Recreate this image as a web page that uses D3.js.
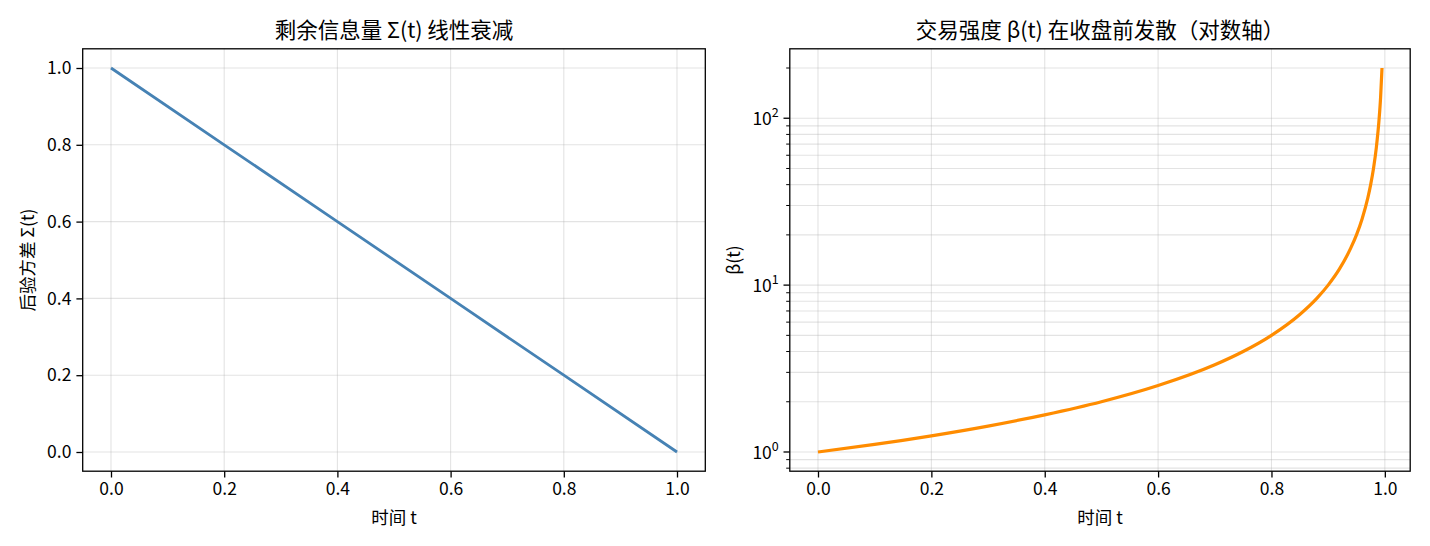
<!DOCTYPE html>
<html>
<head>
<meta charset="utf-8">
<script src="https://cdn.jsdelivr.net/npm/d3@7"></script>
<style>
  body { margin: 0; background: #fff; }
  svg text { font-family: "Noto Sans CJK SC", "Noto Sans", sans-serif; fill: #000; }
  .grid line { stroke: #b0b0b0; stroke-opacity: 0.35; stroke-width: 1.1; }
</style>
</head>
<body>
<div id="chart"></div>
<script>
// left panel: posterior variance, linear decay
const sigmaT = [0, 0.2, 0.4, 0.6, 0.8, 1.0];
const sigmaV = [1.0, 0.8, 0.6, 0.4, 0.2, 0.0];

// right panel: trading intensity
const betaT = [0, 0.1, 0.2, 0.3, 0.4, 0.5, 0.6, 0.7, 0.75, 0.8, 0.85, 0.88, 0.9, 0.92, 0.94, 0.95, 0.96, 0.97, 0.975, 0.98, 0.985, 0.99, 0.9925, 0.995];
const betaV = [1.0, 1.11, 1.25, 1.43, 1.67, 2.0, 2.5, 3.33, 4.0, 5.0, 6.67, 8.33, 10, 12.5, 16.7, 20, 25, 33.3, 40, 50, 66.7, 100, 133, 200];

const xTicks = [0, 0.2, 0.4, 0.6, 0.8, 1.0];
const leftYTicks = [0, 0.2, 0.4, 0.6, 0.8, 1.0];
const logMajor = [1, 10, 100];

const W = 1430, H = 546;
const plotTop = 48.8, plotBottom = 471.2;
const panels = [
  { x0: 82.7, x1: 705.3, title: "剩余信息量 Σ(t) 线性衰减", ylabel: "后验方差 Σ(t)" },
  { x0: 789.8, x1: 1410.2, title: "交易强度 β(t) 在收盘前发散（对数轴）", ylabel: "β(t)" }
];

const svg = d3.select("#chart").append("svg")
  .attr("width", W).attr("height", H);

const tickFont = 17.5, labelFont = 17.5, titleFont = 21.5;

function frame(p, x) {
  const g = svg.append("g");
  // vertical grid
  g.append("g").attr("class", "grid")
    .selectAll("line").data(xTicks).enter().append("line")
    .attr("x1", d => x(d)).attr("x2", d => x(d))
    .attr("y1", plotTop).attr("y2", plotBottom);
  return g;
}

function xAxis(g, p, x) {
  const ax = g.append("g").attr("transform", `translate(0,${plotBottom})`)
    .call(d3.axisBottom(x).tickValues(xTicks).tickFormat(d3.format(".1f")).tickSizeInner(6.3).tickSizeOuter(0).tickPadding(5));
  ax.select(".domain").remove();
  ax.selectAll("line").attr("stroke", "#000").attr("stroke-width", 1.3);
  ax.selectAll("text").style("font-size", tickFont + "px").attr("fill", "#000");
  g.append("text").attr("x", (p.x0 + p.x1) / 2).attr("y", 524)
    .attr("text-anchor", "middle").style("font-size", labelFont + "px").text("时间 t");
  g.append("text").attr("x", (p.x0 + p.x1) / 2).attr("y", 38)
    .attr("text-anchor", "middle").style("font-size", titleFont + "px").text(p.title);
}

function border(g, p) {
  g.append("rect").attr("x", p.x0).attr("y", plotTop)
    .attr("width", p.x1 - p.x0).attr("height", plotBottom - plotTop)
    .attr("fill", "none").attr("stroke", "#000").attr("stroke-width", 1.3);
}

// ---- left panel
{
  const p = panels[0];
  const x = d3.scaleLinear().domain([-0.05, 1.05]).range([p.x0, p.x1]);
  const y = d3.scaleLinear().domain([-0.05, 1.05]).range([plotBottom, plotTop]);
  const g = frame(p, x);
  g.append("g").attr("class", "grid")
    .selectAll("line").data(leftYTicks).enter().append("line")
    .attr("x1", p.x0).attr("x2", p.x1)
    .attr("y1", d => y(d)).attr("y2", d => y(d));

  g.append("path")
    .datum(sigmaT.map((t, i) => [t, sigmaV[i]]))
    .attr("fill", "none").attr("stroke", "#4682b4").attr("stroke-width", 2.8)
    .attr("d", d3.line().x(d => x(d[0])).y(d => y(d[1])));

  const ay = g.append("g").attr("transform", `translate(${p.x0},0)`)
    .call(d3.axisLeft(y).tickValues(leftYTicks).tickFormat(d3.format(".1f")).tickSizeInner(6.3).tickSizeOuter(0).tickPadding(5));
  ay.select(".domain").remove();
  ay.selectAll("line").attr("stroke", "#000").attr("stroke-width", 1.3);
  ay.selectAll("text").style("font-size", tickFont + "px").attr("fill", "#000");

  xAxis(g, p, x);
  g.append("text").attr("transform", `translate(34,${(plotTop + plotBottom) / 2}) rotate(-90)`)
    .attr("text-anchor", "middle").style("font-size", labelFont + "px").text(p.ylabel);
  border(g, p);
}

// ---- right panel
{
  const p = panels[1];
  const x = d3.scaleLinear().domain([-0.04975, 1.04475]).range([p.x0, p.x1]);
  const lo = Math.pow(10, -0.1151), hi = Math.pow(10, 2.4161);
  const y = d3.scaleLog().domain([lo, hi]).range([plotBottom, plotTop]);
  const g = frame(p, x);

  const minor = [];
  [0.1, 1, 10, 100].forEach(b => { for (let k = 2; k <= 9; k++) { const v = b * k; if (v >= lo && v <= hi) minor.push(v); } });
  const allY = logMajor.concat(minor);
  g.append("g").attr("class", "grid")
    .selectAll("line").data(allY).enter().append("line")
    .attr("x1", p.x0).attr("x2", p.x1)
    .attr("y1", d => y(d)).attr("y2", d => y(d));

  g.append("path")
    .datum(betaT.map((t, i) => [t, betaV[i]]))
    .attr("fill", "none").attr("stroke", "#ff8c00").attr("stroke-width", 3.2)
    .attr("d", d3.line().curve(d3.curveMonotoneX).x(d => x(d[0])).y(d => y(d[1])));

  // minor ticks
  g.selectAll(".mt").data(minor).enter().append("line")
    .attr("x1", p.x0 - 3.6).attr("x2", p.x0)
    .attr("y1", d => y(d)).attr("y2", d => y(d))
    .attr("stroke", "#000").attr("stroke-width", 1.0);
  // major ticks with 10^k labels
  logMajor.forEach((v, i) => {
    g.append("line").attr("x1", p.x0 - 6.3).attr("x2", p.x0)
      .attr("y1", y(v)).attr("y2", y(v)).attr("stroke", "#000").attr("stroke-width", 1.3);
    const t = g.append("text").attr("x", p.x0 - 11).attr("y", y(v) + 7)
      .attr("text-anchor", "end").style("font-size", tickFont + "px");
    t.append("tspan").text("10");
    t.append("tspan").attr("dy", -8).style("font-size", "12.5px").text(String(i));
  });

  xAxis(g, p, x);
  g.append("text").attr("transform", `translate(740,${(plotTop + plotBottom) / 2}) rotate(-90)`)
    .attr("text-anchor", "middle").style("font-size", labelFont + "px").text(p.ylabel);
  border(g, p);
}
</script>
</body>
</html>
